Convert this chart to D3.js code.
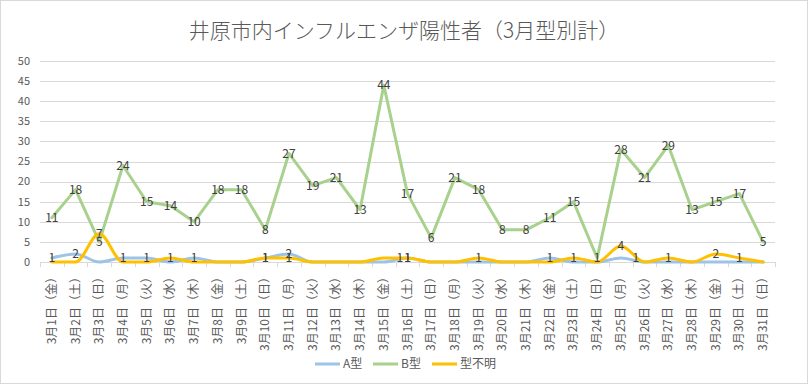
<!DOCTYPE html>
<html lang="ja">
<head>
<meta charset="UTF-8"/>
<title>井原市内インフルエンザ陽性者</title>
<script src="https://d3js.org/d3.v7.min.js"></script>
<style>
  body { margin: 0; background: #fff; }
  text { font-family: "Noto Sans CJK JP", "Noto Sans", sans-serif; fill: #595959; }
  .grid line { stroke: #d9d9d9; stroke-width: 1; shape-rendering: crispEdges; }
  .lbl { font-size: 12px; fill: #404040; }
</style>
</head>
<body>
<script>
// day labels
var days = d3.range(1, 32);
var weekdays = ["金","土","日","月","火","水","木"];
var categories = days.map(function (d) { return "3月" + d + "日（" + weekdays[(d - 1) % 7] + "）"; });

var seriesA = [1,2,0,1,1,0,1,0,0,1,2,0,0,0,0,1,0,0,0,0,0,1,0,0,1,0,0,0,0,0,0];
var seriesB = [11,18,5,24,15,14,10,18,18,8,27,19,21,13,44,17,6,21,18,8,8,11,15,1,28,21,29,13,15,17,5];
var seriesU = [0,0,7,0,0,1,0,0,0,1,1,0,0,0,1,1,0,0,1,0,0,0,1,0,4,0,1,0,2,1,0];

var yTicks = [0,5,10,15,20,25,30,35,40,45,50];

var series = [
  {name: "A型", values: seriesA, color: "#9dc3e6", smooth: true},
  {name: "B型", values: seriesB, color: "#a9d18e", smooth: false},
  {name: "型不明", values: seriesU, color: "#ffc000", smooth: true}
];

// labels nudged sideways in the original to avoid collisions (series index, day index, px)
var labelNudge = {"0-24": 15, "2-14": 16};

var W = 808, H = 384;
var margin = {top: 61, right: 33, bottom: 122, left: 40},
    width = W - margin.left - margin.right,
    height = H - margin.top - margin.bottom;

var svg = d3.select("body").append("svg")
    .attr("width", W).attr("height", H);

// chart border
svg.append("rect")
    .attr("x", 0.5).attr("y", 0.5)
    .attr("width", W - 1).attr("height", H - 1)
    .attr("fill", "#fff").attr("stroke", "#d9d9d9");

// title
svg.append("text")
    .attr("x", W / 2).attr("y", 38)
    .attr("text-anchor", "middle")
    .style("font-size", "21px").style("font-weight", 300)
    .text("井原市内インフルエンザ陽性者（3月型別計）");

var g = svg.append("g")
    .attr("transform", "translate(" + margin.left + "," + margin.top + ")");

var x = d3.scaleBand().domain(categories).range([0, width]);
var y = d3.scaleLinear().domain([0, 50]).range([height, 0]);
var cx = function (i) { return x(categories[i]) + x.bandwidth() / 2; };

// gridlines
g.append("g").attr("class", "grid")
    .selectAll("line").data(yTicks.slice(1)).enter().append("line")
    .attr("x1", 0).attr("x2", width)
    .attr("y1", function (d) { return Math.round(y(d)) + 0.5; })
    .attr("y2", function (d) { return Math.round(y(d)) + 0.5; });

// y axis labels
g.append("g").selectAll("text").data(yTicks).enter().append("text")
    .attr("x", -10).attr("y", function (d) { return y(d); })
    .attr("dy", "0.35em").attr("text-anchor", "end")
    .style("font-size", "11px")
    .text(function (d) { return d; });

// x axis
var xAxis = g.append("g")
    .attr("transform", "translate(0," + height + ")");
xAxis.append("line")
    .attr("x1", 0).attr("x2", width).attr("y1", 0.5).attr("y2", 0.5)
    .attr("stroke", "#d9d9d9");
xAxis.selectAll("line.tick").data(d3.range(32)).enter().append("line")
    .attr("class", "tick")
    .attr("x1", function (i) { return Math.round(i * x.step()) + 0.5; })
    .attr("x2", function (i) { return Math.round(i * x.step()) + 0.5; })
    .attr("y1", 0).attr("y2", 5)
    .attr("stroke", "#d9d9d9");
xAxis.selectAll("text").data(categories).enter().append("text")
    .attr("transform", function (d, i) { return "translate(" + (cx(i) + 4) + ",9) rotate(-90)"; })
    .attr("text-anchor", "end")
    .style("font-size", "12px")
    .text(function (d) { return d; });

// lines
series.forEach(function (s) {
  var line = d3.line()
      .x(function (d, i) { return cx(i); })
      .y(function (d) { return y(d); })
      .curve(s.smooth ? d3.curveMonotoneX : d3.curveLinear);
  g.append("path")
      .datum(s.values)
      .attr("d", line)
      .attr("fill", "none")
      .attr("stroke", s.color)
      .attr("stroke-width", 3)
      .attr("stroke-linejoin", "round")
      .attr("stroke-linecap", "round");
});

// data labels (zeros hidden)
series.forEach(function (s, k) {
  g.append("g").selectAll("text")
      .data(s.values.map(function (v, i) { return {v: v, i: i}; }).filter(function (d) { return d.v !== 0; }))
      .enter().append("text")
      .attr("class", "lbl")
      .attr("x", function (d) { return cx(d.i) + (labelNudge[k + "-" + d.i] || 0); })
      .attr("y", function (d) { return y(d.v); })
      .attr("dy", "0.35em")
      .attr("text-anchor", "middle")
      .text(function (d) { return d.v; });
});

// legend
var legend = svg.append("g").attr("transform", "translate(315,364)");
var offs = [0, 58, 117];
series.forEach(function (s, k) {
  var lg = legend.append("g").attr("transform", "translate(" + offs[k] + ",0)");
  lg.append("line").attr("x1", 0).attr("x2", 25).attr("y1", 0).attr("y2", 0)
      .attr("stroke", s.color).attr("stroke-width", 3);
  lg.append("text").attr("x", 28).attr("dy", "0.35em")
      .style("font-size", "12px").text(s.name);
});
</script>
</body>
</html>
